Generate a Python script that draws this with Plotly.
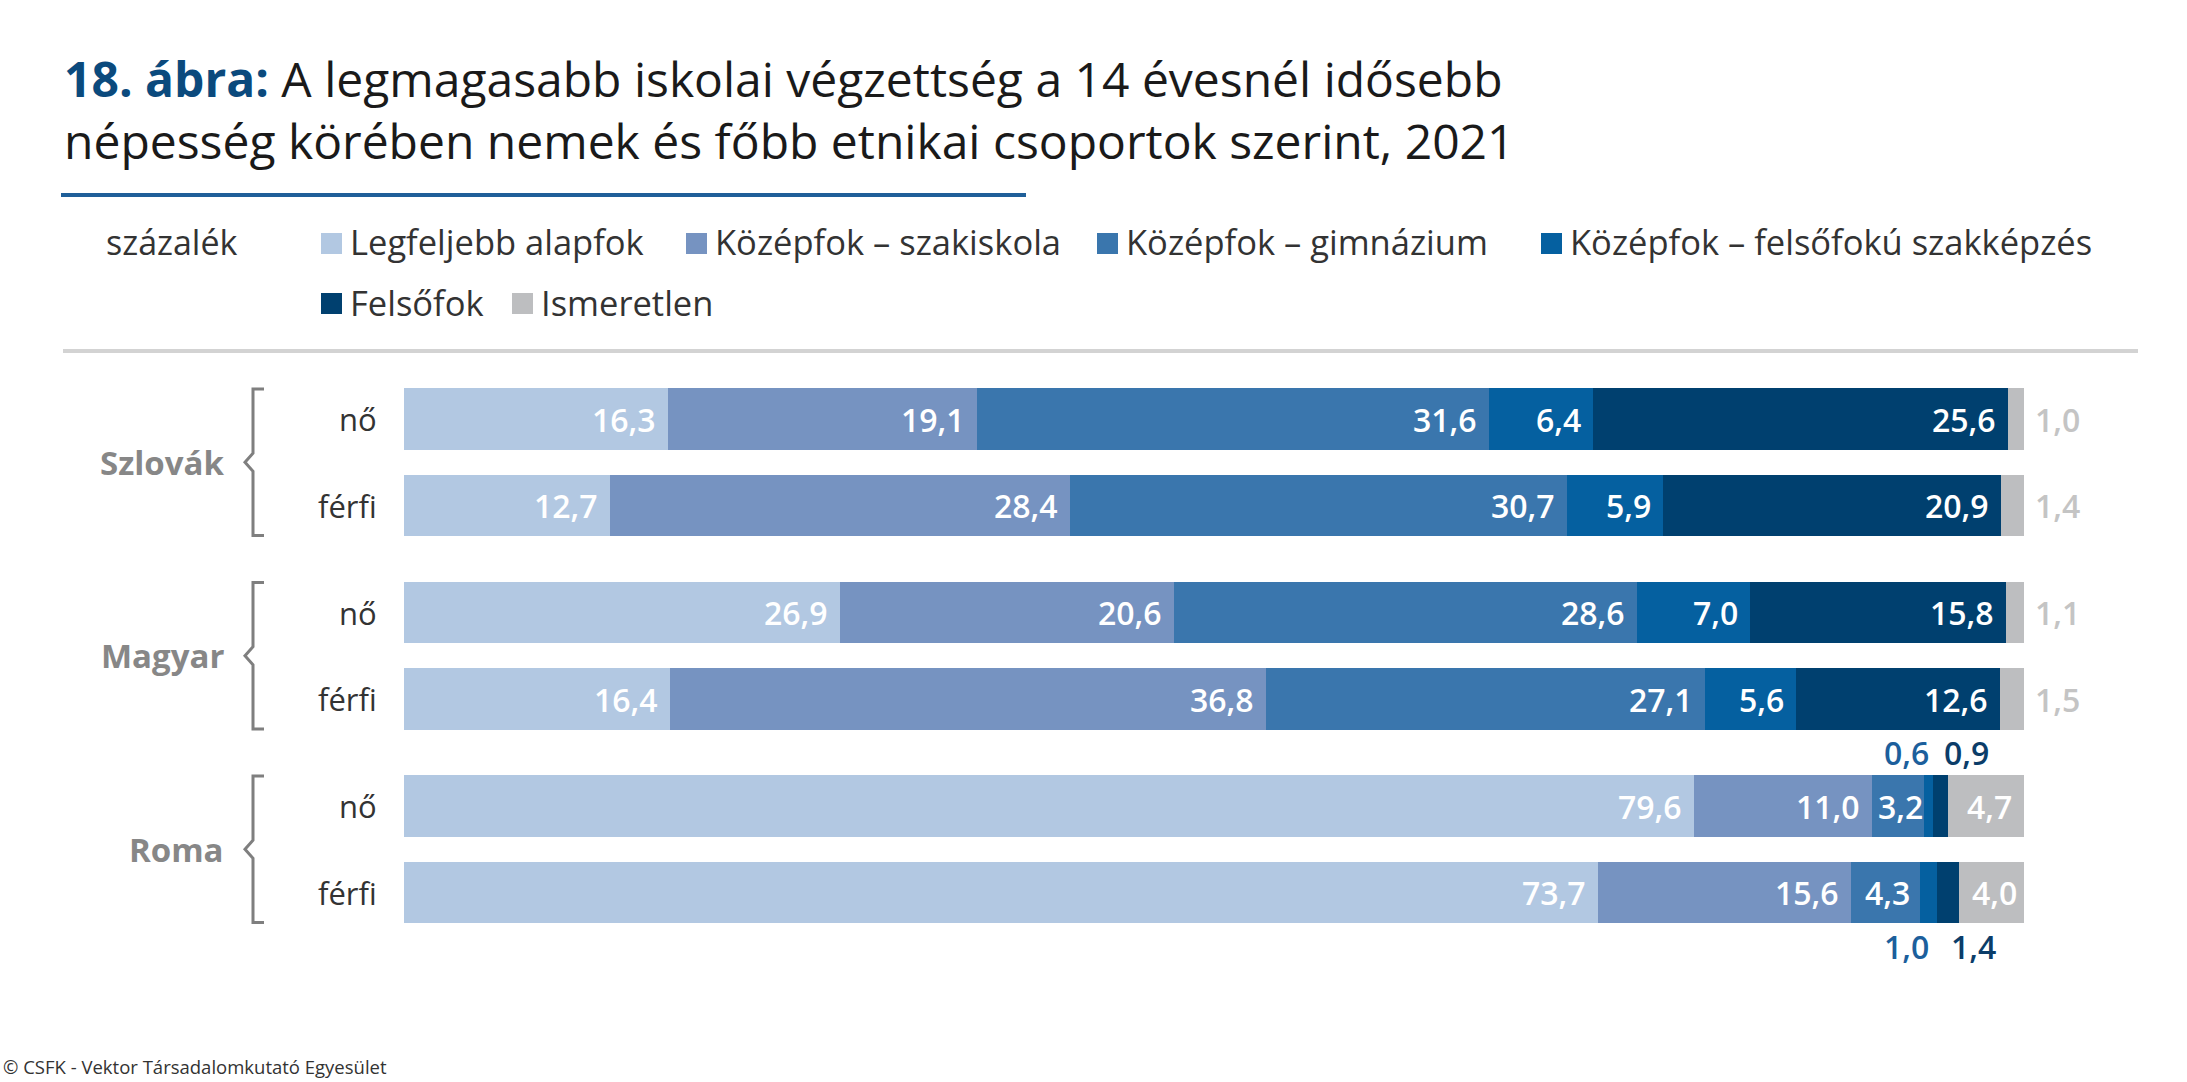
import plotly.graph_objects as go

# data
groups = ["Szlovák", "Magyar", "Roma"]
sexes = ["nő", "férfi"]
levels = ["Legfeljebb alapfok", "Középfok – szakiskola", "Középfok – gimnázium",
          "Középfok – felsőfokú szakképzés", "Felsőfok", "Ismeretlen"]
alapfok = [16.3, 12.7, 26.9, 16.4, 79.6, 73.7]
szakiskola = [19.1, 28.4, 20.6, 36.8, 11.0, 15.6]
gimnazium = [31.6, 30.7, 28.6, 27.1, 3.2, 4.3]
felsofoku_szakkepzes = [6.4, 5.9, 7.0, 5.6, 0.6, 1.0]
felsofok = [25.6, 20.9, 15.8, 12.6, 0.9, 1.4]
ismeretlen = [1.0, 1.4, 1.1, 1.5, 4.7, 4.0]
series = [alapfok, szakiskola, gimnazium, felsofoku_szakkepzes, felsofok, ismeretlen]

colors = ["#b2c8e2", "#7693c1", "#3a76ad", "#0560a0", "#00406f", "#bdbec0"]
small_colors = {3: "#1c5f9c", 4: "#0b3d69"}

W, H = 2187, 1082
X0, X100 = 404, 2024          # pixel positions of 0 % and 100 %
ROW0, PITCH, GROUP = 419, 86.5, 2.237   # first row centre, row pitch, group pitch (rows)
FONT = "Open Sans"

def px(x):
    return x / W

def py(y):
    return 1 - y / H

# row positions
ypos = []
for g in range(len(groups)):
    for s in range(len(sexes)):
        ypos.append(g * GROUP + s)

fig = go.Figure()
for name, vals, col in zip(levels, series, colors):
    fig.add_trace(go.Bar(
        x=vals, y=ypos, orientation="h", name=name,
        marker=dict(color=col, line=dict(width=0)),
        width=0.711, showlegend=False,
        hovertemplate=name + ": %{x:.1f}%<extra></extra>",
    ))

ann = []
shapes = []

# value labels
for r in range(len(ypos)):
    left = 0
    for k, vals in enumerate(series):
        v = vals[r]
        right = left + v
        seg_px = v / 100 * (X100 - X0)
        txt = f"{v:.1f}".replace(".", ",")
        if seg_px < 30:
            if k == len(series) - 1:
                ann.append(dict(x=right, y=ypos[r], xref="x", yref="y", text=txt,
                                showarrow=False, xanchor="left", xshift=9,
                                font=dict(family=FONT, size=32, color="#c4c4c4", weight=600)))
            else:
                above = (r % 2 == 0)
                ann.append(dict(x=(left + right) / 2, y=ypos[r], xref="x", yref="y", text=txt,
                                showarrow=False, xanchor="center",
                                xshift=-22 if k == 3 else 26,
                                yshift=54 if above else -54,
                                font=dict(family=FONT, size=32, color=small_colors.get(k, "#333"), weight=600)))
        else:
            gap = min(12, max(1, (seg_px - 50) / 2))
            ann.append(dict(x=right, y=ypos[r], xref="x", yref="y", text=txt,
                            showarrow=False, xanchor="right", xshift=-gap + 2,
                            font=dict(family=FONT, size=32, color="white", weight=600)))
        left = right

# row and group labels, brackets
for g, grp in enumerate(groups):
    top = ROW0 + g * GROUP * PITCH - 30
    bot = ROW0 + (g * GROUP + 1) * PITCH + 30
    mid = (top + bot) / 2
    ann.append(dict(x=px(226), y=py(mid), xref="paper", yref="paper", text=grp,
                    showarrow=False, xanchor="right", yanchor="middle",
                    font=dict(family=FONT, size=33, color="#878787", weight=700)))
    path = (f"M {px(264)},{py(top)} L {px(253)},{py(top)} L {px(253)},{py(mid - 9)} "
            f"L {px(245)},{py(mid)} L {px(253)},{py(mid + 9)} L {px(253)},{py(bot)} L {px(264)},{py(bot)}")
    shapes.append(dict(type="path", path=path, xref="paper", yref="paper",
                       line=dict(color="#7f7f7f", width=3)))
    for s, sx in enumerate(sexes):
        ann.append(dict(x=px(379), y=ypos[g * 2 + s], xref="paper", yref="y", text=sx,
                        showarrow=False, xanchor="right", yanchor="middle",
                        font=dict(family=FONT, size=31, color="#333333")))

# title
ann.append(dict(x=px(62), y=py(109), xref="paper", yref="paper", showarrow=False,
                xanchor="left", yanchor="middle", align="left",
                text="<span style='color:#0b4a7d'><b>18. ábra:</b></span> A legmagasabb iskolai végzettség a 14 évesnél idősebb"
                     "<br>népesség körében nemek és főbb etnikai csoportok szerint, 2021",
                font=dict(family=FONT, size=48, color="#1a1a1a")))
shapes.append(dict(type="line", xref="paper", yref="paper", x0=px(61), x1=px(1026),
                   y0=py(195), y1=py(195), line=dict(color="#1f5f99", width=4)))
shapes.append(dict(type="line", xref="paper", yref="paper", x0=px(63), x1=px(2138),
                   y0=py(351), y1=py(351), line=dict(color="#d3d3d3", width=4)))

# legend
ann.append(dict(x=px(104), y=py(242), xref="paper", yref="paper", text="százalék",
                showarrow=False, xanchor="left", yanchor="middle",
                font=dict(family=FONT, size=34, color="#333333")))
leg_pos = [(321, 242), (686, 242), (1097, 242), (1541, 242), (321, 302), (512, 302)]
for name, col, (lx, ly) in zip(levels, colors, leg_pos):
    shapes.append(dict(type="rect", xref="paper", yref="paper", x0=px(lx), x1=px(lx + 21),
                       y0=py(ly - 9), y1=py(ly + 12), fillcolor=col, line=dict(width=0)))
    ann.append(dict(x=px(lx + 27), y=py(ly), xref="paper", yref="paper", text=name,
                    showarrow=False, xanchor="left", yanchor="middle",
                    font=dict(family=FONT, size=34.5, color="#333333")))

# source
ann.append(dict(x=px(1), y=py(1066), xref="paper", yref="paper",
                text="© CSFK - Vektor Társadalomkutató Egyesület", showarrow=False,
                xanchor="left", yanchor="middle",
                font=dict(family=FONT, size=18.5, color="#333333")))

units = 100 / (X100 - X0)
fig.update_layout(
    width=W, height=H,
    barmode="stack",
    separators=", ",
    margin=dict(l=0, r=0, t=0, b=0),
    paper_bgcolor="white", plot_bgcolor="white",
    xaxis=dict(range=[-X0 * units, (W - X0) * units], visible=False, fixedrange=True),
    yaxis=dict(range=[(H - ROW0) / PITCH, -ROW0 / PITCH], visible=False, fixedrange=True),
    annotations=ann, shapes=shapes,
    font=dict(family=FONT),
)

fig.write_html("out.html", config={"displayModeBar": False},
               post_script="document.body.style.margin='0px';")
